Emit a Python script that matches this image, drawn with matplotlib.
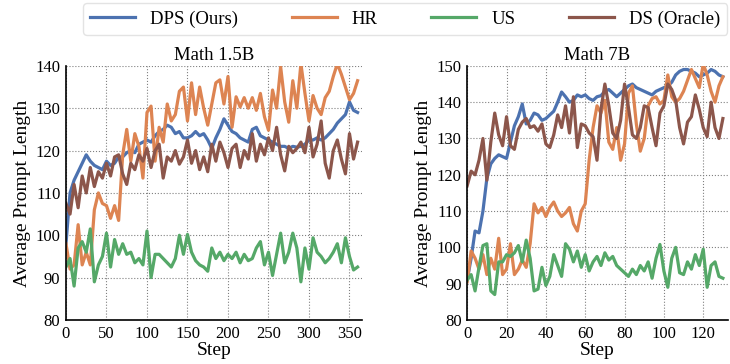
import matplotlib
matplotlib.use("Agg")
import matplotlib.pyplot as plt
import numpy as np

plt.rcParams['font.family'] = ['Liberation Serif', 'DejaVu Serif']
plt.rcParams['mathtext.fontset'] = 'stix'

colors = {'DPS (Ours)': '#4C72B0', 'HR': '#DD8452', 'US': '#55A868', 'DS (Oracle)': '#8C564B'}

# Math 1.5B, every 5 steps
steps_15b = np.arange(0, 361, 5)
dps_15b = [98, 110, 113, 115, 117, 119, 117.5, 116.5, 116, 115.5, 117.5, 116.5, 117, 118.5, 118.5,
           119.5, 120, 119.5, 121.5, 122, 122.5, 122, 123.5, 124.5, 125, 126, 125.5, 124, 124.5,
           123, 123, 123.5, 124.5, 123.5, 124, 122.5, 120.5, 123, 125, 127.5, 126, 124.5, 124,
           123, 122.5, 122, 125, 125.5, 123.5, 123, 122.5, 122, 121.5, 121, 121, 120.5, 121,
           120.8, 121, 121.5, 122.5, 122.5, 123, 122.5, 123, 124, 125, 126.5, 127.5, 128.5,
           131.5, 129.5, 129]
hr_15b = [98, 92, 93, 102.5, 93, 96, 93, 106, 110, 107.5, 107, 104, 107, 103.5, 119, 125, 117.5,
          124, 121, 113.5, 129, 130.5, 117.5, 125.5, 122, 131, 127, 128.5, 134, 135, 127, 136,
          128.5, 135, 130, 126, 131, 136, 136.7, 131, 137.5, 125.5, 132.7, 130.3, 132.5, 130,
          132.5, 129.5, 133.5, 128, 124.8, 134.3, 130, 139.8, 131.5, 126.7, 136.5, 130, 140.5,
          133.5, 127, 133, 130, 128.5, 132.5, 134, 137.5, 140.5, 138, 135, 132, 133.5, 136.5]
us_15b = [92.5, 94.5, 88, 97, 98.5, 96, 101.5, 89, 93, 95, 100.5, 92.5, 99, 95.5, 98, 95.5, 96,
          93.5, 94.5, 93, 101, 90, 95.5, 95.5, 94.5, 93.5, 92.5, 94.5, 100, 95.5, 100.2, 96, 94,
          93, 92.5, 91.5, 97, 94.5, 96, 94, 95.5, 94.5, 96, 93.5, 95.5, 94, 94.5, 97, 98.5, 93,
          96, 90.5, 95.5, 100.5, 93.5, 96, 100.5, 97, 89, 97, 92, 99.4, 96, 95, 93.5, 94.5, 96,
          98, 93.5, 99.4, 95, 91.8, 92.5]
ds_15b = [107.5, 105, 112, 106.5, 114, 110, 116, 111.5, 115, 113.5, 117, 114, 118.5, 119, 114.5,
          112, 117, 115.5, 119, 117.5, 120.5, 116, 120, 121.5, 113.5, 118.5, 117.5, 120, 116.8,
          118.5, 122.5, 117, 120, 115.5, 118.5, 115, 121.5, 117.5, 122, 119.5, 116, 120.5, 121.5,
          116, 120, 118, 124, 117.5, 121.5, 119, 123, 120, 125.5, 119, 115.2, 121, 119.5, 120.5,
          122, 119.5, 125.5, 118.5, 121.5, 127, 117, 113.5, 120, 122.5, 118, 114.5, 124, 118, 122]

# Math 7B, every 2 steps
steps_7b = np.arange(0, 131, 2)
dps_7b = [91, 97, 104.5, 104, 110, 119, 123, 124.5, 125.5, 125, 124.5, 129, 133.5, 136, 139.5,
          134, 135, 137, 136.5, 135, 135.5, 136.5, 137.5, 140, 142.8, 141.5, 140, 140.5, 142,
          141.5, 142, 141, 140.5, 141.5, 141.8, 143, 143.5, 142.5, 141.5, 142.5, 143.5, 144.5,
          145, 144, 143.5, 143, 142.5, 142, 143, 143.5, 144, 144.5, 145.5, 147.5, 148.5, 149,
          149, 148.5, 148, 147, 147.5, 148, 149, 148.5, 147.5, 147]
hr_7b = [90.5, 99, 97, 94, 98, 92.5, 97, 94, 102.5, 92.5, 94, 101, 92.5, 94, 96.5, 94.5, 101, 112,
         109.5, 111, 108.5, 111, 112.5, 110, 108.5, 109.5, 111, 106.5, 104.5, 110, 112, 124, 133,
         139, 137, 140.5, 129, 127, 133, 124, 128.5, 142.5, 144.5, 134, 126.5, 130, 139, 141,
         141.5, 139.5, 140.5, 147.5, 141.5, 140, 141, 143, 146, 149, 146.5, 144, 150.5, 147.5,
         143, 140, 144.5, 147]
us_7b = [91, 92.5, 88, 94.5, 100.5, 101, 88, 87, 96, 96, 98, 97.5, 98.5, 100.5, 96, 102, 97, 88,
         88.5, 94.5, 89.5, 92, 98, 95, 92, 101, 99.5, 96, 99, 94.5, 98, 93.5, 96, 97.5, 95, 98.5,
         96.5, 97.5, 95, 94, 93, 92, 94, 92.5, 95, 93.5, 96, 91.5, 97, 100.8, 93.5, 89, 97, 100,
         93, 92.5, 96, 94, 98, 95, 99.5, 89, 95, 96, 92, 91.5]
ds_7b = [117, 121, 120, 124, 130, 118.5, 129, 137, 131, 128, 136, 128, 127, 132.5, 134.5, 135.5,
         133, 133.5, 132, 134, 128.5, 127.5, 131, 136.5, 133, 139, 131.5, 141.5, 127.5, 134,
         133.5, 131.5, 130.5, 124, 138, 145, 139, 131.5, 130, 135, 145, 138.5, 131, 130, 133, 139,
         138.5, 133, 128, 137, 139, 145, 143.5, 140.5, 133, 128.5, 134.5, 136, 142, 138, 133,
         130.5, 140, 133, 130, 135.5]

panels = [
    ('Math 1.5B', steps_15b, [dps_15b, hr_15b, us_15b, ds_15b], (0, 365), np.arange(0, 351, 50), (80, 140)),
    ('Math 7B', steps_7b, [dps_7b, hr_7b, us_7b, ds_7b], (0, 132.5), np.arange(0, 121, 20), (80, 150)),
]
names = ['DPS (Ours)', 'HR', 'US', 'DS (Oracle)']

fig = plt.figure(figsize=(7.3, 3.64), dpi=100)
ax1 = fig.add_axes([0.0904, 0.121, 0.405, 0.698])
ax2 = fig.add_axes([0.640, 0.121, 0.357, 0.698])

for ax, (title, x, series, xlim, xticks, ylim) in zip([ax1, ax2], panels):
    for name, y in zip(names, series):
        ax.plot(x, y, color=colors[name], lw=2.3, label=name)
    ax.set_xlim(*xlim)
    ax.set_ylim(*ylim)
    ax.set_xticks(xticks)
    ax.set_yticks(np.arange(ylim[0], ylim[1] + 1, 10))
    ax.grid(True, linestyle=':', color='gray', lw=0.8)
    for s in ['top', 'right']:
        ax.spines[s].set_visible(False)
    for s in ['left', 'bottom']:
        ax.spines[s].set_color('black')
        ax.spines[s].set_linewidth(1.2)
    ax.tick_params(labelsize=12, length=0, pad=4)
    ax.set_title(title, fontsize=13.5, pad=4)
    ax.set_xlabel('Step', fontsize=14, labelpad=0)
    ax.set_ylabel('Average Prompt Length', fontsize=14, labelpad=3)

handles, labels = ax1.get_legend_handles_labels()
fig.legend(handles, labels, loc='upper center', bbox_to_anchor=(0.555, 0.992), ncol=4,
           fontsize=13.5, handlelength=2.4, columnspacing=2.85, frameon=True,
           edgecolor='#dddddd', fancybox=True, borderpad=0.4, borderaxespad=0)

fig.savefig('out.png', dpi=100)
